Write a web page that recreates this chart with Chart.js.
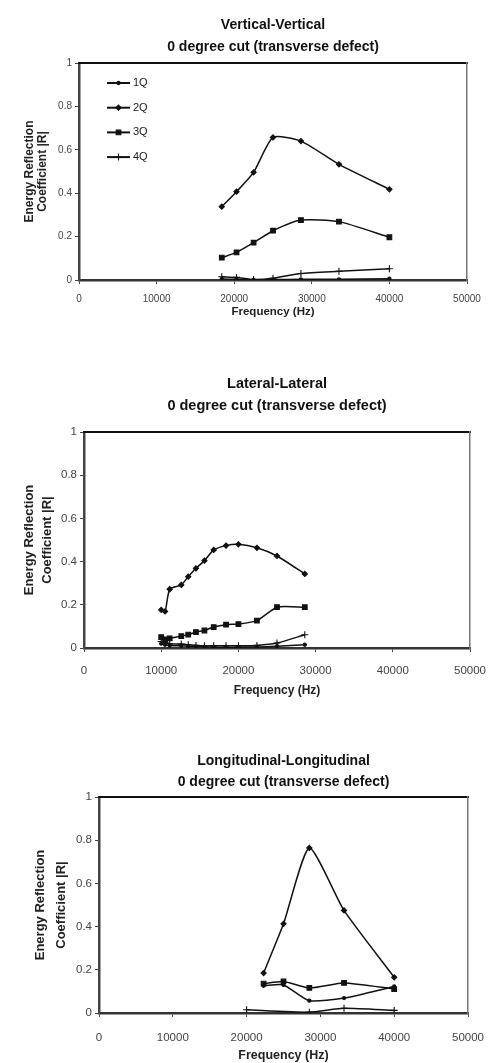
<!DOCTYPE html>
<html>
<head>
<meta charset="utf-8">
<script src="https://cdn.jsdelivr.net/npm/chart.js@4/dist/chart.umd.min.js"></script>
<style>
  body { margin: 0; background: #fff; width: 498px; height: 1063px; overflow: hidden; position: relative; }
  .panel { position: absolute; left: 0; width: 498px; }
</style>
</head>
<body>
<div class="panel" style="top:0;height:330px"><canvas id="vvChart"></canvas></div>
<div class="panel" style="top:330px;height:375px"><canvas id="llChart"></canvas></div>
<div class="panel" style="top:705px;height:358px"><canvas id="lgChart"></canvas></div>
<script>
const SERIES = ["1Q", "2Q", "3Q", "4Q"];
const X_TICKS = [0, 10000, 20000, 30000, 40000, 50000];
const Y_TICKS = [0, 0.2, 0.4, 0.6, 0.8, 1];

// Vertical-Vertical
const vvFreq = [18400, 20300, 22500, 25000, 28600, 33500, 40000];
const vv1Q = [0.005, 0.003, 0.001, 0.002, 0.003, 0.003, 0.006];
const vv2Q = [0.338, 0.407, 0.496, 0.657, 0.64, 0.533, 0.418];
const vv3Q = [0.103, 0.127, 0.172, 0.227, 0.276, 0.269, 0.197];
const vv4Q = [0.015, 0.012, 0.002, 0.008, 0.03, 0.04, 0.052];

// Lateral-Lateral
const llFreq = [10000, 10500, 11100, 12600, 13500, 14500, 15600, 16800, 18400, 20000, 22400, 25000, 28600];
const ll1Q = [0.02, 0.015, 0.012, 0.01, 0.008, 0.006, 0.005, 0.004, 0.004, 0.004, 0.005, 0.008, 0.015];
const ll2Q = [0.177, 0.169, 0.272, 0.292, 0.33, 0.369, 0.404, 0.454, 0.474, 0.48, 0.464, 0.426, 0.343];
const ll3Q = [0.05, 0.04, 0.045, 0.055, 0.062, 0.074, 0.081, 0.097, 0.108, 0.111, 0.127, 0.189, 0.189];
const ll4Q = [0.03, 0.025, 0.02, 0.018, 0.015, 0.012, 0.01, 0.01, 0.01, 0.01, 0.012, 0.023, 0.061];

// Longitudinal-Longitudinal
const lgFreq = [22300, 25000, 28500, 33200, 40000];
const lg4QFreq = [20000, 28500, 33200, 40000];
const lg1Q = [0.126, 0.13, 0.057, 0.069, 0.123];
const lg2Q = [0.185, 0.413, 0.764, 0.475, 0.165];
const lg3Q = [0.136, 0.146, 0.116, 0.139, 0.111];
const lg4Q = [0.015, 0.004, 0.022, 0.012];

const FONT = "'Liberation Sans', Arial, sans-serif";
const INK = "#111";

const MARKERS = {
  "1Q": { pointStyle: "circle", pointRadius: 1.6 },
  "2Q": { pointStyle: "rectRot", pointRadius: 2.6 },
  "3Q": { pointStyle: "rect", pointRadius: 3.3 },
  "4Q": { pointStyle: "cross", pointRadius: 3.5 },
};

const makeDataset = (label, xs, ys) => ({
  label,
  data: xs.map((x, i) => ({ x, y: ys[i] })),
  borderColor: INK,
  backgroundColor: INK,
  borderWidth: 1.5,
  pointBorderWidth: 1.1,
  showLine: true,
  tension: 0.2,
  ...MARKERS[label],
});

// legend drawn inside the plot, line + marker + label
const insetLegend = {
  id: "insetLegend",
  afterDatasetsDraw(chart, args, opts) {
    const { ctx, chartArea } = chart;
    ctx.save();
    chart.data.datasets.forEach((ds, i) => {
      const y = chartArea.top + opts.top + i * opts.spacing;
      const x0 = chartArea.left + opts.left;
      ctx.strokeStyle = ds.borderColor;
      ctx.fillStyle = ds.backgroundColor;
      ctx.lineWidth = 2;
      ctx.beginPath();
      ctx.moveTo(x0, y);
      ctx.lineTo(x0 + opts.lineLength, y);
      ctx.stroke();
      ctx.lineWidth = ds.pointBorderWidth;
      Chart.helpers.drawPoint(ctx, {
        pointStyle: ds.pointStyle,
        radius: ds.pointRadius,
        rotation: 0,
        borderWidth: ds.pointBorderWidth,
      }, x0 + opts.lineLength / 2, y);
      ctx.fillStyle = "#222";
      ctx.font = `11px ${FONT}`;
      ctx.textBaseline = "middle";
      ctx.fillText(ds.label, x0 + opts.lineLength + 3, y);
    });
    ctx.restore();
  },
};

function buildChart(id, title, datasets, f, withLegend) {
  const tickFont = { family: FONT, size: f.tickSize };
  return new Chart(document.getElementById(id), {
    type: "scatter",
    data: { datasets },
    plugins: withLegend ? [insetLegend] : [],
    options: {
      responsive: true,
      maintainAspectRatio: false,
      animation: false,
      layout: { padding: 0 },
      plugins: {
        legend: { display: false },
        tooltip: { enabled: false },
        insetLegend: { top: 20, spacing: 24.7, left: 28, lineLength: 23 },
      },
      scales: {
        x: {
          type: "linear",
          position: "bottom",
          min: 0,
          max: 50000,
          afterBuildTicks: (s) => { s.ticks = X_TICKS.map((value) => ({ value })); },
          afterFit: (s) => { s.height = f.bottom; },
          ticks: { callback: (v) => String(v), font: tickFont, color: "#444", padding: f.xTickPad, maxRotation: 0 },
          grid: { drawOnChartArea: false, drawTicks: true, tickLength: 4, color: "#444" },
          border: { display: true, color: "#333", width: 2.5 },
          title: {
            display: true,
            text: "Frequency (Hz)",
            color: "#222",
            font: { family: FONT, size: f.xTitleSize, weight: "bold", lineHeight: 1 },
            padding: { top: 0, bottom: f.xTitlePad },
          },
        },
        y: {
          type: "linear",
          position: "left",
          min: 0,
          max: 1,
          afterBuildTicks: (s) => { s.ticks = Y_TICKS.map((value) => ({ value })); },
          afterFit: (s) => { s.width = f.left; },
          ticks: { callback: (v) => String(v), font: tickFont, color: "#444", padding: 3 },
          grid: { drawOnChartArea: false, drawTicks: true, tickLength: 4, color: "#444" },
          border: { display: true, color: "#444", width: 2.5 },
          title: {
            display: true,
            text: ["Energy Reflection", "Coefficient |R|"],
            color: "#222",
            font: { family: FONT, size: f.yTitleSize, weight: "bold", lineHeight: f.yTitleLine / f.yTitleSize },
            padding: { top: f.yTitlePad, bottom: 0 },
          },
        },
        xTop: {
          type: "linear",
          position: "top",
          min: 0,
          max: 50000,
          ticks: { display: false },
          grid: { display: false },
          border: { display: true, color: "#111", width: 2 },
          afterFit: (s) => { s.height = f.top; },
          title: {
            display: true,
            text: title,
            color: "#111",
            font: { family: FONT, size: f.titleSize, weight: "bold", lineHeight: f.titleLine / f.titleSize },
            padding: { top: f.titlePad, bottom: 0 },
          },
        },
        yRight: {
          type: "linear",
          position: "right",
          min: 0,
          max: 1,
          ticks: { display: false },
          grid: { display: false },
          border: { display: true, color: "#777", width: 1.5 },
          afterFit: (s) => { s.width = f.right; },
        },
      },
    },
  });
}

buildChart(
  "vvChart",
  ["Vertical-Vertical", "0 degree cut (transverse defect)"],
  [
    makeDataset(SERIES[0], vvFreq, vv1Q),
    makeDataset(SERIES[1], vvFreq, vv2Q),
    makeDataset(SERIES[2], vvFreq, vv3Q),
    makeDataset(SERIES[3], vvFreq, vv4Q),
  ],
  { top: 63, left: 79, right: 31, bottom: 50, titlePad: 14, titleLine: 22, titleSize: 14,
    yTitleLine: 12.5, yTitlePad: 23.5, yTitleSize: 12, xTitleSize: 11.5,
    tickSize: 10, xTickPad: 9, xTitlePad: 12 },
  true
);

buildChart(
  "llChart",
  ["Lateral-Lateral", "0 degree cut (transverse defect)"],
  [
    makeDataset(SERIES[0], llFreq, ll1Q),
    makeDataset(SERIES[1], llFreq, ll2Q),
    makeDataset(SERIES[2], llFreq, ll3Q),
    makeDataset(SERIES[3], llFreq, ll4Q),
  ],
  { top: 102, left: 84, right: 21, bottom: 57, titlePad: 43, titleLine: 22, titleSize: 14.5,
    yTitleLine: 18, yTitlePad: 20, yTitleSize: 13, xTitleSize: 12,
    tickSize: 11.5, xTickPad: 12, xTitlePad: 8 },
  false
);

buildChart(
  "lgChart",
  ["Longitudinal-Longitudinal", "0 degree cut (transverse defect)"],
  [
    makeDataset(SERIES[0], lgFreq, lg1Q),
    makeDataset(SERIES[1], lgFreq, lg2Q),
    makeDataset(SERIES[2], lgFreq, lg3Q),
    makeDataset(SERIES[3], lg4QFreq, lg4Q),
  ],
  { top: 92, left: 99, right: 18, bottom: 50, titlePad: 46, titleLine: 21, titleSize: 14,
    yTitleLine: 21, yTitlePad: 30, yTitleSize: 13, xTitleSize: 12.5,
    tickSize: 11.5, xTickPad: 14, xTitlePad: 1 },
  false
);
</script>
</body>
</html>
